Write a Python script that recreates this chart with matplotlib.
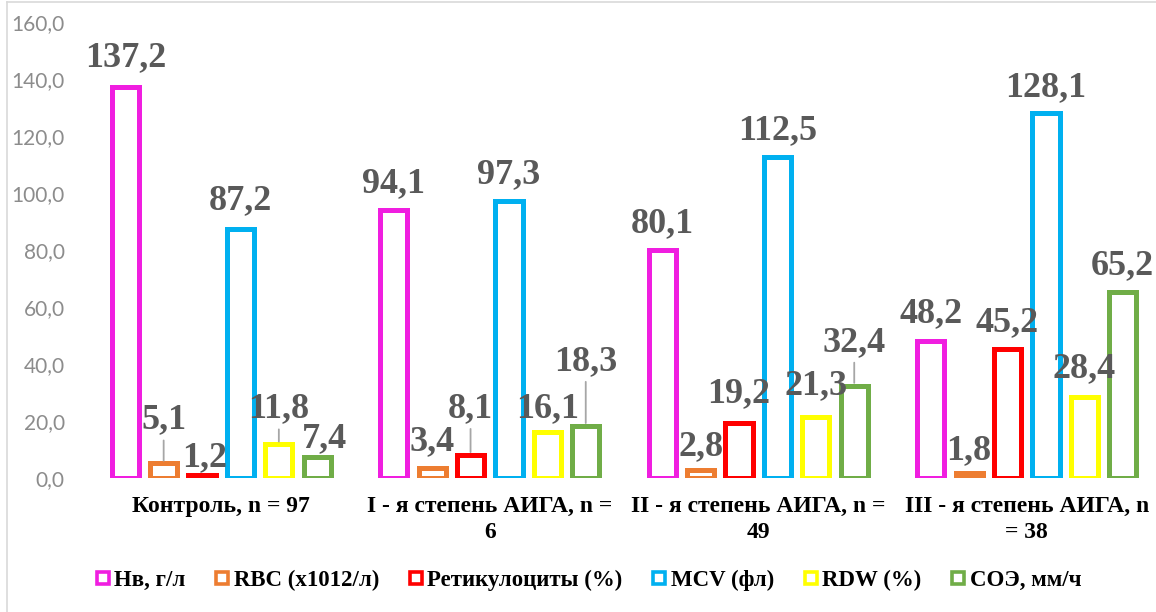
import numpy as np
import matplotlib
matplotlib.use("Agg")
import matplotlib.pyplot as plt
from matplotlib.lines import Line2D

# ── data ──────────────────────────────────────────────────────────────────────
categories = ["Контроль, n = 97",
              "I - я степень АИГА, n =\n6",
              "II - я степень АИГА, n =\n49",
              "III - я степень АИГА, n\n= 38"]
series = ["Нв, г/л", "RBC (х1012/л)", "Ретикулоциты (%)",
          "MCV (фл)", "RDW (%)", "СОЭ, мм/ч"]
hb     = [137.2, 94.1, 80.1, 48.2]
rbc    = [5.1, 3.4, 2.8, 1.8]
retic  = [1.2, 8.1, 19.2, 45.2]
mcv    = [87.2, 97.3, 112.5, 128.1]
rdw    = [11.8, 16.1, 21.3, 28.4]
esr    = [7.4, 18.3, 32.4, 65.2]
values = [hb, rbc, retic, mcv, rdw, esr]
yticks = [0, 20, 40, 60, 80, 100, 120, 140, 160]

# ── style ─────────────────────────────────────────────────────────────────────
colors = ["#F01EE0", "#ED7D31", "#FF0000", "#00B0F0", "#FFFF00", "#70AD47"]
LABEL_C = "#595959"
SERIF = "Liberation Serif"

# label gap above bar top (px) and x shift (px); series x category
gap = [[21, 18, 18, 19],
       [35, 18, 15, 14],
       [8, 38, 21, 18],
       [20, 18, 18, 17],
       [27, 15, 23, 20],
       [10, 56, 35, 18]]
shift = [[0, 0, 0, 0],
         [0, 0, 0, 0],
         [3, 0, 0, 0],
         [0, 0, 0, 0],
         [0, 0, 0, 0],
         [7, 0, 0, 0]]
leaders = {(1, 0), (4, 0), (2, 1), (5, 1), (5, 2)}

W, H = 1156, 612
fig = plt.figure(figsize=(W / 100, H / 100), dpi=100)
ax_l, ax_b, ax_t = 87 / W, (H - 478) / H, (H - 22) / H
ax = fig.add_axes([ax_l, ax_b, 1.0 - ax_l, ax_t - ax_b])
PX = 72 / 100  # px -> points

x = np.arange(len(categories))
pitch = 0.143
bw = 0.101
for i, (vals, c) in enumerate(zip(values, colors)):
    xs = x + (i - 2.5) * pitch
    ax.bar(xs, vals, bw, facecolor="white", edgecolor=c, linewidth=3.6,
           zorder=3, label=series[i])
    for j, v in enumerate(vals):
        g = gap[i][j]
        ax.annotate(f"{v:.1f}".replace(".", ","), (xs[j], v),
                    xytext=(shift[i][j] * PX, g * PX), textcoords="offset points",
                    ha="center", va="baseline", fontsize=26, fontweight="bold",
                    family=SERIF, color=LABEL_C, zorder=5)
        if (i, j) in leaders:
            ax.annotate("", (xs[j], v), xytext=(0, (g - 12) * PX),
                        textcoords="offset points",
                        arrowprops=dict(arrowstyle="-", color="#A6A6A6", lw=1.3,
                                        shrinkA=0, shrinkB=2),
                        zorder=4)

ax.set_ylim(0, 160)
ax.set_xlim(-0.5, 3.5 - (1161 - W) / 268.7)
ax.set_yticks(yticks)
ax.set_yticklabels([f"{t:.1f}".replace(".", ",") for t in yticks],
                   family="Lato", fontsize=15, color="#8C8C8C")
ax.set_xticks(x)
ax.set_xticklabels(categories, family=SERIF, fontsize=17, fontweight="bold",
                   color="black", linespacing=1.3)
ax.tick_params(axis="y", length=0, pad=16)
ax.tick_params(axis="x", length=0, pad=13)
for sp in ax.spines.values():
    sp.set_visible(False)

# legend
handles = [Line2D([0], [0], marker="s", linestyle="none", markersize=9,
                  markerfacecolor="white", markeredgecolor=c, markeredgewidth=2.6,
                  label=s) for s, c in zip(series, colors)]
fig.legend(handles=handles, loc="center", bbox_to_anchor=(588 / W, 1 - 580 / H),
           ncol=6, frameon=False, handlelength=0.7, handletextpad=0.15,
           columnspacing=1.25, prop=dict(family=SERIF, weight="bold", size=16.5))

# chart border (left / top)
fig.add_artist(Line2D([7 / W, 7 / W], [0, 1 - 2 / H], color="#D9D9D9", lw=1.2))
fig.add_artist(Line2D([7 / W, 1], [1 - 2 / H, 1 - 2 / H], color="#D9D9D9", lw=1.2))

fig.savefig("out.png", dpi=100)
